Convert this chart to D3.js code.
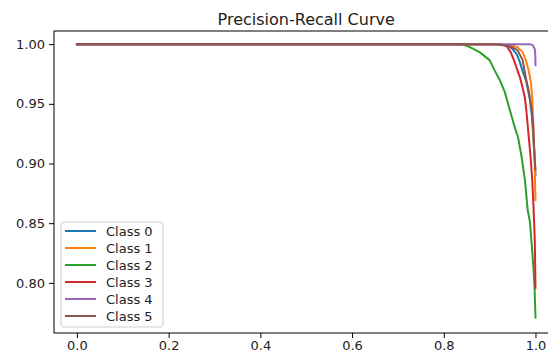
<!DOCTYPE html>
<html>
<head>
<meta charset="utf-8">
<script src="https://cdn.jsdelivr.net/npm/d3@7"></script>
<style>
  html, body { margin: 0; padding: 0; background: #fff; }
  svg { display: block; font-family: "DejaVu Sans", sans-serif; }
</style>
</head>
<body>
<svg id="chart" width="548" height="351"></svg>
<script>
// ---- data ----
const classNames = ["Class 0", "Class 1", "Class 2", "Class 3", "Class 4", "Class 5"];
const classColors = ["#1f77b4", "#ff7f0e", "#2ca02c", "#d62728", "#9467bd", "#8c564b"];

const recall0    = [0, 0.911, 0.933, 0.948, 0.959, 0.966, 0.972, 0.979, 0.983, 0.988, 0.992, 0.995, 0.9985, 1.0];
const precision0 = [1, 1, 0.9992, 0.9967, 0.9916, 0.9849, 0.9774, 0.9699, 0.9632, 0.9531, 0.9406, 0.9238, 0.9029, 0.8904];

const recall1    = [0, 0.918, 0.944, 0.961, 0.972, 0.979, 0.985, 0.990, 0.993, 0.9948, 0.9963, 0.9985, 1.0];
const precision1 = [1, 1, 0.9992, 0.9975, 0.9933, 0.9866, 0.9782, 0.9682, 0.9548, 0.9364, 0.9197, 0.8971, 0.8695];

const recall2    = [0, 0.839, 0.857, 0.878, 0.900, 0.911, 0.922, 0.933, 0.944, 0.955, 0.962, 0.970, 0.977, 0.983, 0.988, 0.994, 0.998, 1.0];
const precision2 = [1, 1, 0.9975, 0.9933, 0.9866, 0.978, 0.970, 0.960, 0.945, 0.930, 0.922, 0.905, 0.886, 0.861, 0.851, 0.821, 0.797, 0.771];

const recall3    = [0, 0.922, 0.937, 0.946, 0.953, 0.959, 0.966, 0.972, 0.977, 0.980, 0.984, 0.989, 0.993, 0.996, 0.9985, 1.0];
const precision3 = [1, 1, 0.9983, 0.9933, 0.9866, 0.9799, 0.9724, 0.9632, 0.9548, 0.9448, 0.928, 0.9071, 0.8862, 0.8611, 0.836, 0.796];

const recall4    = [0, 0.9876, 0.9941, 0.9985, 0.9996, 1.0];
const precision4 = [1, 1, 0.9992, 0.9958, 0.9908, 0.9824];

const recall5    = [0, 0.911, 0.944, 0.961, 0.972, 0.980, 0.985, 0.991, 0.9948, 0.9969, 0.9985, 1.0];
const precision5 = [1, 1, 0.9983, 0.995, 0.9866, 0.9699, 0.9615, 0.9473, 0.9339, 0.9155, 0.9029, 0.8946];

const xTicks = [0.0, 0.2, 0.4, 0.6, 0.8, 1.0];
const yTicks = [0.80, 0.85, 0.90, 0.95, 1.00];
const chartTitle = "Precision-Recall Curve";

const recalls = [recall0, recall1, recall2, recall3, recall4, recall5];
const precisions = [precision0, precision1, precision2, precision3, precision4, precision5];

// ---- layout ----
const svg = d3.select("#chart");
const padL = 54, padT = 31, padB = 333, padR = 558.4;

const x = d3.scaleLinear().domain([-0.05, 1.05]).range([padL, padR]);
const y = d3.scaleLinear().domain([0.758, 1.011]).range([padB, padT]);

// lines
const line = d3.line().x(d => x(d[0])).y(d => y(d[1]));
classNames.forEach((name, i) => {
  const pts = recalls[i].map((r, j) => [r, precisions[i][j]]);
  svg.append("path")
    .attr("d", line(pts))
    .attr("fill", "none")
    .attr("stroke", classColors[i])
    .attr("stroke-width", 2)
    .attr("stroke-linejoin", "round")
    .attr("stroke-linecap", "square");
});

// axes
const fs = 13;
const xAxis = svg.append("g")
  .attr("transform", `translate(0,${padB})`)
  .call(d3.axisBottom(x).tickValues(xTicks).tickFormat(d3.format(".1f")).tickSize(5).tickPadding(3).tickSizeOuter(0));
const yAxis = svg.append("g")
  .attr("transform", `translate(${padL},0)`)
  .call(d3.axisLeft(y).tickValues(yTicks).tickFormat(d3.format(".2f")).tickSize(5).tickPadding(4).tickSizeOuter(0));
[xAxis, yAxis].forEach(g => {
  g.select(".domain").remove();
  g.selectAll("line").attr("stroke", "#000").attr("stroke-width", 1);
  g.selectAll("text").attr("fill", "#222").style("font-size", fs + "px").style("font-family", "DejaVu Sans");
});

// spines
svg.append("rect")
  .attr("x", padL).attr("y", padT)
  .attr("width", padR - padL).attr("height", padB - padT)
  .attr("fill", "none").attr("stroke", "#000").attr("stroke-width", 1);

// title
svg.append("text")
  .attr("x", (padL + padR) / 2).attr("y", 25)
  .attr("text-anchor", "middle")
  .attr("fill", "#222")
  .style("font-size", "16px")
  .text(chartTitle);

// legend
const lg = svg.append("g");
lg.append("rect")
  .attr("x", 61).attr("y", 222).attr("width", 102).attr("height", 105)
  .attr("rx", 3).attr("fill", "#fff").attr("fill-opacity", 0.8)
  .attr("stroke", "#d0d0d0").attr("stroke-width", 1);
classNames.forEach((name, i) => {
  const cy = 231 + i * 17;
  lg.append("line")
    .attr("x1", 65).attr("x2", 96).attr("y1", cy).attr("y2", cy)
    .attr("stroke", classColors[i]).attr("stroke-width", 2);
  lg.append("text")
    .attr("x", 106).attr("y", cy).attr("dy", "0.36em")
    .attr("fill", "#222")
    .style("font-size", fs + "px")
    .text(name);
});
</script>
</body>
</html>
